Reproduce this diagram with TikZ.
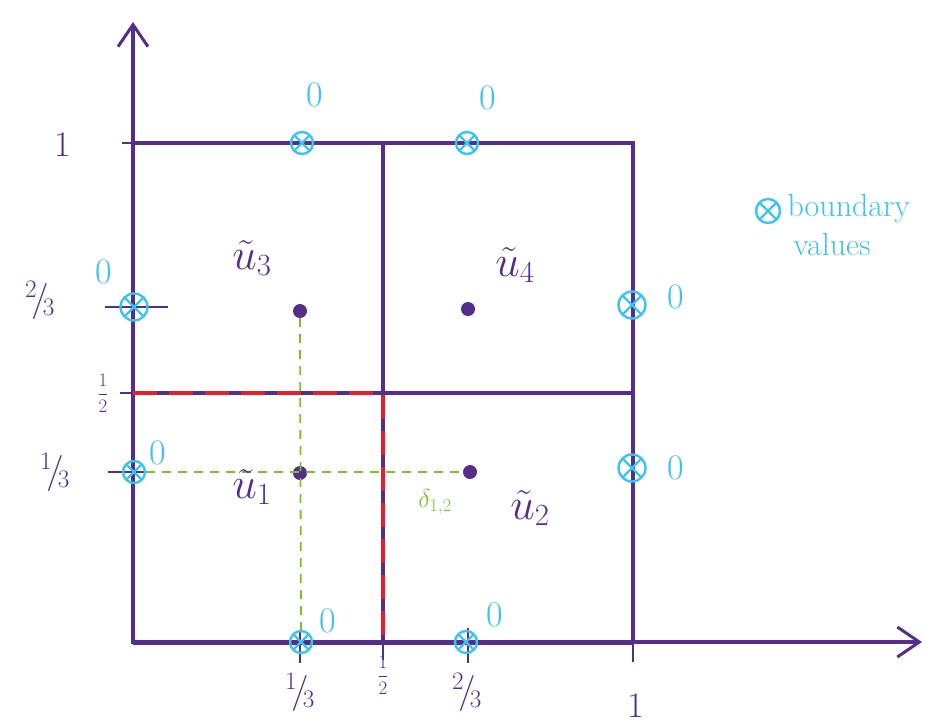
\RequirePackage{fix-cm}
\documentclass[tikz,border=0pt]{standalone}
\usetikzlibrary{arrows.meta}
\definecolor{pur}{RGB}{85,45,140}
\definecolor{cyn}{RGB}{60,195,240}
\definecolor{grn}{RGB}{120,195,40}
\definecolor{rd}{RGB}{230,30,45}
\newcommand{\slfrac}[2]{$^{#1}\!/\!_{#2}$}
\begin{document}
\begin{tikzpicture}[x=1pt,y=-1pt,
  ax/.style={pur,line width=3.2pt},
  axarrow/.style={ax,-{Straight Barb[length=22pt,width=30pt,line width=3pt]}},
  tickline/.style={pur,line width=2.4pt},
  bnd/.style={circle,draw=cyn,line width=2.4pt,minimum size=#1,inner sep=0pt,
    path picture={\draw[cyn,line width=2.2pt]
      (path picture bounding box.north west)--(path picture bounding box.south east)
      (path picture bounding box.north east)--(path picture bounding box.south west);}},
  bnd/.default=22pt,
  dotn/.style={circle,fill=pur,minimum size=14pt,inner sep=0pt},
  zero/.style={text=cyn,font=\fontsize{36}{40}\selectfont},
  lab/.style={text=pur,font=\fontsize{36}{40}\selectfont},
  half/.style={text=pur,font=\fontsize{19}{22}\selectfont,inner sep=1pt},
  ulab/.style={text=pur,font=\fontsize{44}{48}\selectfont},
  grndash/.style={grn,line width=1.8pt,dash pattern=on 9pt off 7pt},
  reddash/.style={rd,line width=4.5pt,dash pattern=on 24pt off 12pt}]
\useasboundingbox (0,0) rectangle (940,726);
% coordinates
\coordinate (O) at (133,642);
\coordinate (ytop) at (133,22);
\coordinate (xend) at (922,642);
\coordinate (TL) at (133,143);
\coordinate (TR) at (633,143);
\coordinate (BR) at (633,642);
\coordinate (TM) at (383,143);
\coordinate (BM) at (383,642);
\coordinate (LM) at (133,393);
\coordinate (RM) at (633,393);
% axes
\draw[axarrow] (133,644) -- (ytop);
\draw[axarrow] (131,642) -- (xend);
\draw[pur,line width=5pt] (O) -- (BR);
% square and grid
\draw[ax] (TL) -- (TR) -- (BR);
\draw[ax] (TM) -- (BM);
\draw[ax] (LM) -- (RM);
% ticks
\draw[tickline] (122,143) -- (TL);
\draw[tickline] (105,307) -- (168,307);
\draw[tickline] (120,393) -- (LM);
\draw[tickline] (108,472) -- (152,472);
\draw[tickline] (300,630) -- (300,663);
\draw[tickline] (BM) -- (383,660);
\draw[tickline] (468,628) -- (468,663);
\draw[tickline] (BR) -- (633,662);
% tick labels
\node[lab] (ly1) at (63,145) {1};
\node[lab] (ly23) at (40,300) {\slfrac{2}{3}};
\node[half] (ly12) at (103,393) {$\displaystyle\frac{1}{2}$};
\node[lab] (ly13) at (55,472) {\slfrac{1}{3}};
\node[lab] (lx13) at (300,692) {\slfrac{1}{3}};
\node[half] (lx12) at (383,675) {$\displaystyle\frac{1}{2}$};
\node[lab] (lx23) at (467,692) {\slfrac{2}{3}};
\node[lab] (lx1) at (636,706) {1};
% interior points
\node[dotn] (p3) at (300,311) {};
\node[dotn] (p4) at (468,309) {};
\node[dotn] (p1) at (300,473) {};
\node[dotn] (p2) at (470,472) {};
% boundary markers
\node[bnd] (bt1) at (302,143) {};
\node[bnd] (bt2) at (467,143) {};
\node[bnd=27pt] (bl2) at (134,307) {};
\node[bnd=27pt] (br2) at (632,305) {};
\node[bnd=27pt] (br1) at (632,468) {};
\node[bnd] (bl1) at (134,472) {};
\node[bnd] (bb1) at (301,642) {};
\node[bnd] (bb2) at (466,642) {};
% green dashed
\draw[grndash] (p3) -- (bb1);
\draw[grndash] (bl1) -- (p2);
% red dashed
\draw[reddash] (LM) -- (383,393) -- (BM);
% zeros
\node[zero] (z1) at (315,95) {0};
\node[zero] (z2) at (488,98) {0};
\node[zero] (z3) at (104,272) {0};
\node[zero] (z4) at (676,297) {0};
\node[zero] (z5) at (676,468) {0};
\node[zero] (z6) at (158,453) {0};
\node[zero] (z7) at (328,621) {0};
\node[zero] (z8) at (495,615) {0};
% labels
\node[ulab] (u3) at (252,258) {$\tilde{u}_3$};
\node[ulab] (u4) at (515,265) {$\tilde{u}_4$};
\node[ulab] (u1) at (252,487) {$\tilde{u}_1$};
\node[ulab] (u2) at (530,508) {$\tilde{u}_2$};
\node[text=grn,font=\fontsize{26}{30}\selectfont] (d12) at (435,502) {$\delta_{1,2}$};
% legend
\node[bnd=24pt] (leg) at (768,211) {};
\node[text=cyn,font=\fontsize{32}{36}\selectfont,anchor=west] (legt1) at (784,209) {boundary};
\node[text=cyn,font=\fontsize{32}{36}\selectfont] (legt2) at (832,245) {values};
\end{tikzpicture}
\end{document}
